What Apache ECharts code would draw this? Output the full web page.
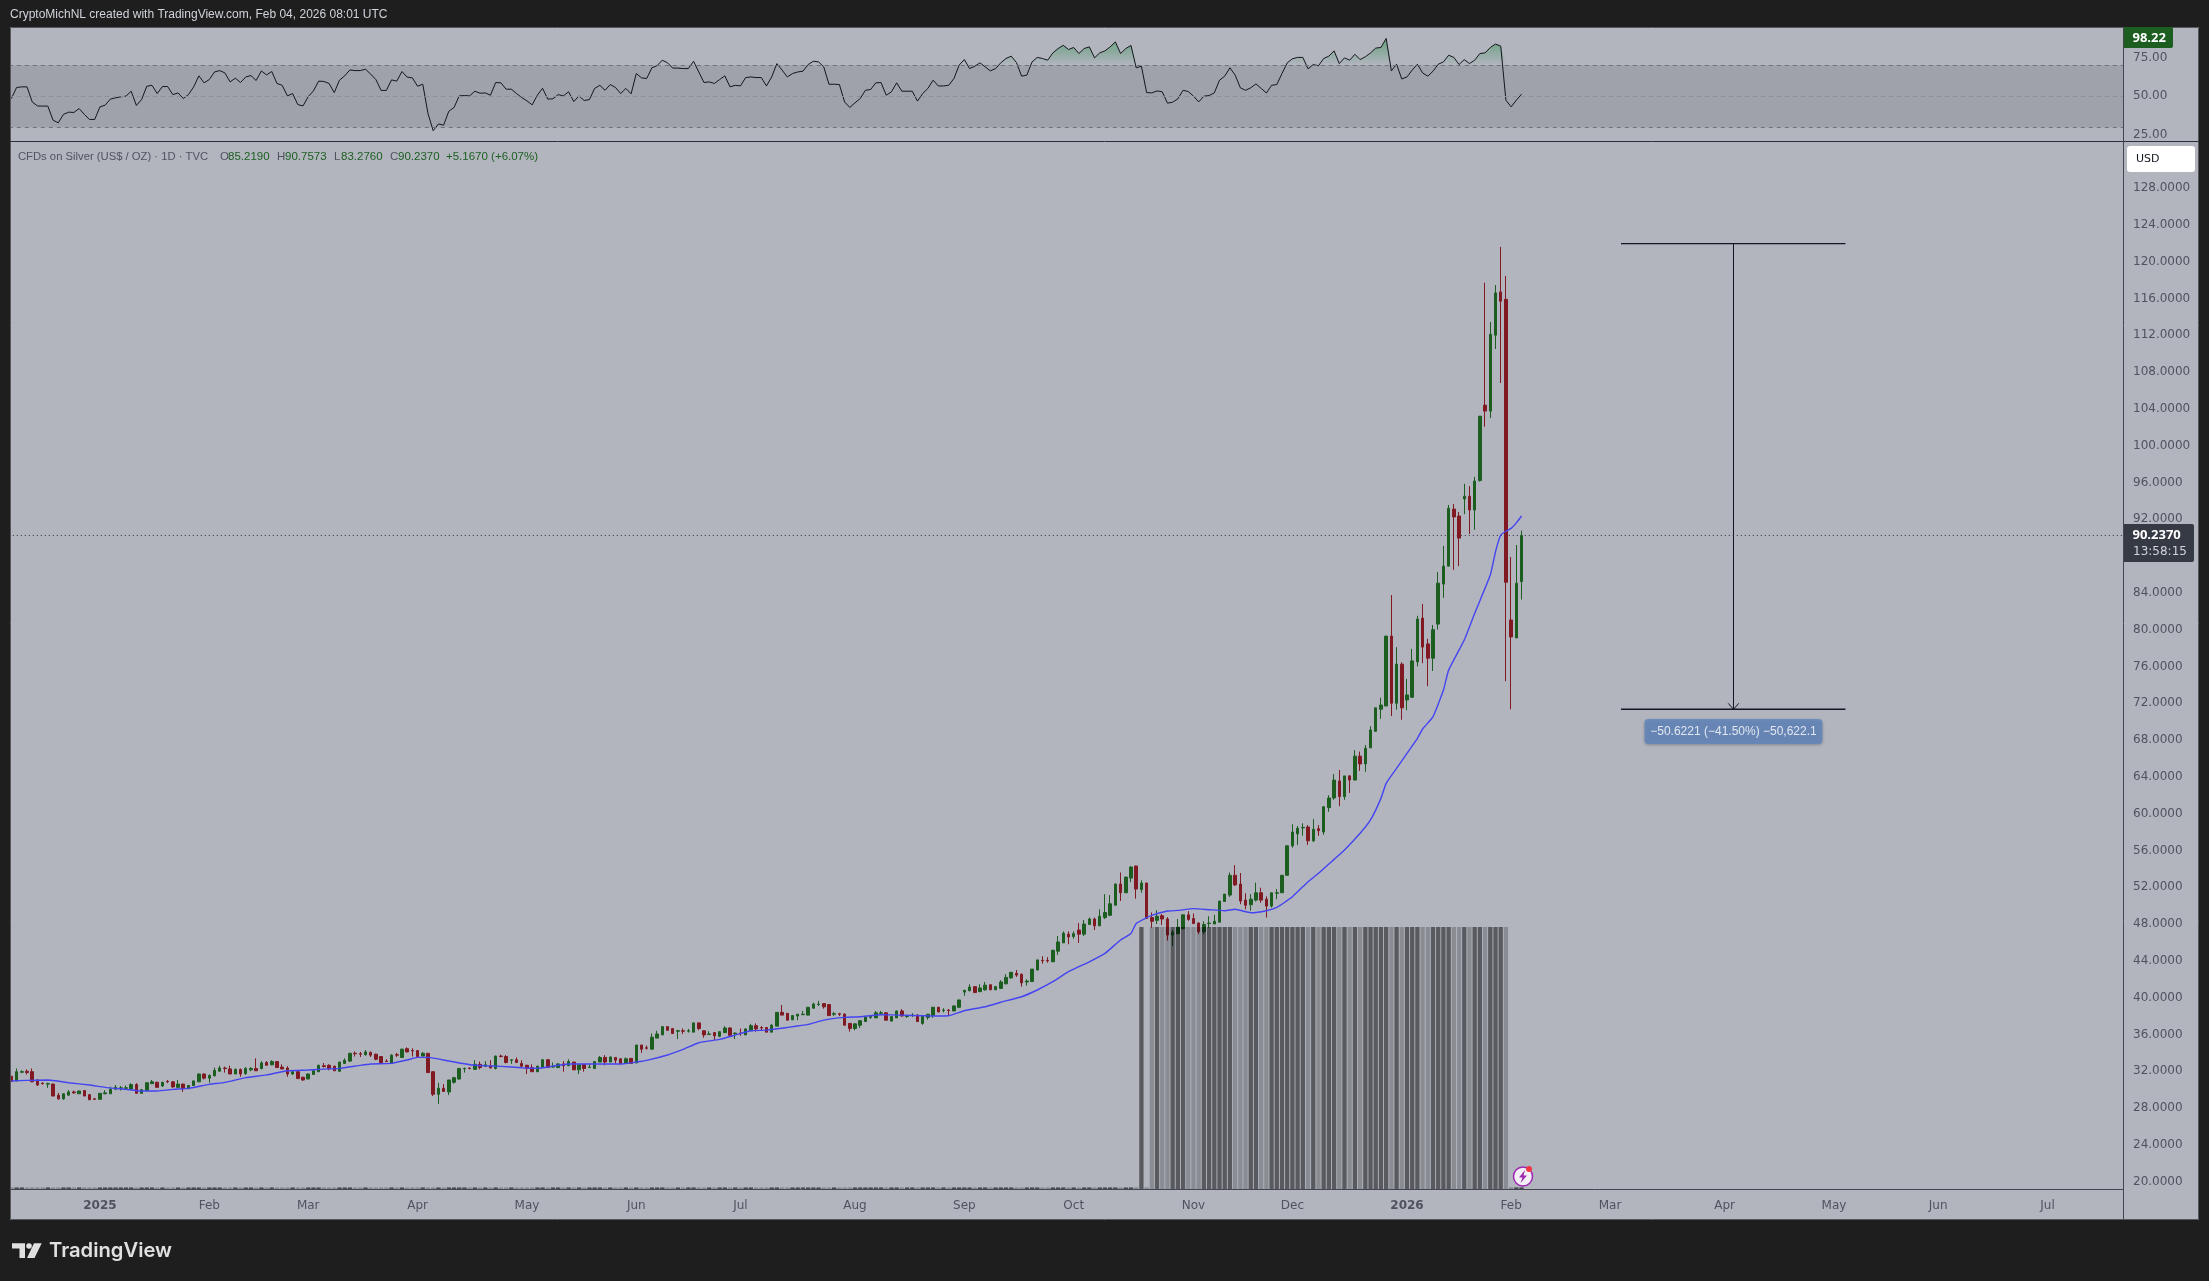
<!DOCTYPE html>
<html><head><meta charset="utf-8">
<style>html,body{margin:0;padding:0;background:#1e1e1e;width:2209px;height:1281px;overflow:hidden}#c{width:2209px;height:1281px}</style>
<script src="https://cdn.jsdelivr.net/npm/echarts@6/dist/echarts.min.js"></script>
</head><body><div id="c"></div><script>
const barCount = 406;
const tickBars = [17,38,57,78,99,120,140,162,183,204,227,246,268,288,307,329,350,370,391];
const tickLabels = ['2025','Feb','Mar','Apr','May','Jun','Jul','Aug','Sep','Oct','Nov','Dec','2026','Feb','Mar','Apr','May','Jun','Jul'];
const priceTicks = [20,24,28,32,36,40,44,48,52,56,60,64,68,72,76,80,84,88,92,96,100,104,108,112,116,120,124,128];
const rsiTicks = [25,50,75];
// open, high, low, close for each daily bar
const ohlc = [
[31.45,31.5,30.9,30.9],[30.95,32.3,30.9,31.95],[31.9,32.1,31.8,31.95],[32.0,32.2,31.65,31.85],[31.95,32.3,30.85,30.85],
[31.05,31.1,30.4,30.5],[30.7,30.8,30.55,30.65],[30.6,30.75,30.2,30.65],[30.6,30.65,29.3,29.3],[29.4,29.65,28.9,29.0],
[29.0,29.6,28.9,29.55],[29.4,29.95,29.4,29.75],[29.75,29.9,29.55,29.65],[29.55,29.9,29.55,29.85],[29.9,29.95,29.3,29.3],
[29.45,29.5,28.9,28.9],[29.0,29.1,28.9,28.95],[28.95,29.6,28.9,29.6],[29.55,29.95,29.5,29.65],[29.55,30.3,29.55,30.05],
[30.05,30.5,29.95,30.25],[30.15,30.4,29.9,30.2],[30.15,30.45,30.05,30.2],[30.05,30.7,30.05,30.55],[30.55,30.7,29.6,29.6],
[29.6,30.05,29.6,30.0],[29.9,30.8,29.9,30.75],[30.65,31.05,30.65,30.85],[30.8,30.85,30.25,30.25],[30.4,30.85,30.3,30.8],
[30.9,31.05,30.7,30.85],[30.85,30.9,30.2,30.3],[30.25,31.05,30.2,30.6],[30.6,30.65,29.75,30.1],[30.1,30.5,30.05,30.45],
[30.45,31.0,30.4,30.95],[30.85,31.75,30.85,31.7],[31.7,31.75,31.1,31.25],[31.25,31.65,30.75,31.55],[31.5,32.4,31.45,32.1],
[32.0,32.6,32.0,32.35],[32.35,32.5,31.85,32.3],[32.25,32.6,31.7,31.7],[31.7,32.3,31.7,32.2],[32.2,32.3,31.4,31.7],
[31.75,32.45,31.6,32.3],[32.15,32.45,32.0,32.3],[32.3,33.4,32.05,32.05],[32.3,33.1,32.2,32.9],[32.95,33.1,32.6,32.65],
[32.7,33.2,32.65,33.05],[33.05,33.1,32.4,32.4],[32.45,32.75,32.2,32.25],[32.35,32.55,31.4,31.7],[31.7,31.95,31.6,31.95],
[31.95,32.0,31.2,31.2],[31.35,31.4,30.95,31.05],[31.15,31.75,31.15,31.7],[31.65,32.1,31.65,32.05],[31.95,32.7,31.9,32.65],
[32.6,32.9,32.4,32.5],[32.65,32.75,32.1,32.3],[32.55,32.6,32.05,32.05],[32.0,33.0,31.95,33.0],[32.85,33.4,32.8,33.2],
[33.1,34.0,33.0,33.95],[33.95,34.15,33.6,33.9],[33.9,34.1,33.55,33.85],[33.8,34.3,33.7,34.1],[34.05,34.15,33.55,33.75],
[33.85,33.9,33.2,33.3],[33.6,33.65,32.8,32.95],[33.1,33.3,33.0,33.05],[32.85,33.85,32.85,33.75],[33.8,34.0,33.55,33.75],
[33.5,34.45,33.5,34.4],[34.45,34.6,34.05,34.1],[34.25,34.5,33.6,34.2],[34.25,34.3,33.55,33.6],[33.65,34.1,33.65,33.95],
[33.95,33.95,31.85,31.85],[31.95,31.95,29.3,29.5],[29.5,30.75,28.45,30.15],[30.15,30.6,29.75,29.8],[29.75,31.05,29.4,31.05],
[30.8,31.4,30.65,31.3],[31.15,32.3,31.1,32.3],[32.25,32.4,31.85,32.3],[32.35,32.4,32.2,32.3],[32.2,33.2,32.2,32.75],
[32.75,33.05,32.2,32.4],[32.55,33.1,32.45,32.7],[32.6,33.2,32.35,32.35],[32.3,33.7,32.2,33.65],[33.65,33.8,33.5,33.6],
[33.6,33.75,32.85,32.95],[33.2,33.25,32.8,33.25],[33.25,33.5,32.9,32.95],[32.85,33.2,32.4,32.55],[32.65,32.7,31.7,32.3],
[32.4,32.75,31.95,31.95],[31.95,32.6,31.9,32.55],[32.4,33.3,32.4,33.25],[33.25,33.3,32.4,32.4],[32.45,32.95,32.4,32.55],
[32.4,32.85,32.4,32.8],[32.8,33.1,31.95,32.6],[32.6,33.3,32.55,33.05],[33.0,33.0,32.15,32.15],[32.15,32.7,31.7,32.7],
[32.75,32.8,31.95,32.3],[32.4,32.8,32.4,32.45],[32.3,33.1,32.25,33.05],[33.0,33.65,33.0,33.5],[33.5,33.75,32.65,33.0],
[33.0,33.6,33.0,33.55],[33.5,33.5,32.85,33.2],[33.35,33.4,32.85,32.85],[32.85,33.5,32.85,33.35],[33.4,33.4,32.85,32.85],
[32.9,34.85,32.9,34.85],[34.85,34.85,34.0,34.4],[34.55,34.8,34.35,34.5],[34.4,36.1,34.4,35.7],[35.6,36.4,35.6,36.05],
[35.95,36.85,35.95,36.85],[36.85,36.85,36.4,36.45],[36.65,36.7,36.1,36.1],[36.35,36.5,35.5,36.4],[36.4,36.65,36.05,36.35],
[36.35,36.6,36.2,36.4],[36.25,37.3,36.25,37.25],[37.25,37.3,36.45,36.65],[36.4,36.4,35.65,35.95],[36.0,36.35,35.95,36.05],
[36.2,36.25,35.4,35.85],[35.8,36.3,35.7,36.3],[36.2,36.9,36.15,36.7],[36.7,36.8,35.8,35.9],[36.1,36.2,35.5,36.15],
[36.15,36.65,35.85,36.1],[35.95,36.65,35.95,36.6],[36.4,37.15,36.35,36.95],[36.95,37.2,36.3,36.6],[36.75,36.9,36.4,36.7],
[36.75,36.8,36.25,36.25],[36.25,37.15,36.25,37.0],[36.9,38.4,36.9,38.4],[38.4,39.2,38.1,38.1],[38.3,38.3,37.55,37.55],
[37.6,38.05,37.55,38.05],[38.0,38.2,37.55,38.2],[38.15,38.55,38.1,38.2],[38.1,38.95,38.1,38.95],[38.85,39.45,38.85,39.3],
[39.25,39.65,39.1,39.3],[39.35,39.35,38.8,39.0],[39.25,39.3,38.05,38.05],[38.2,38.45,38.0,38.25],[38.25,38.35,38.0,38.2],
[38.2,38.3,37.0,37.0],[37.2,37.25,36.3,36.65],[36.65,37.2,36.45,37.15],[37.0,37.5,36.7,37.5],[37.4,37.95,37.4,37.9],
[37.85,38.1,37.7,37.95],[37.8,38.55,37.8,38.35],[38.3,38.55,38.1,38.35],[38.35,38.4,37.55,37.55],[37.45,37.95,37.45,37.95],
[37.8,38.6,37.8,38.55],[38.55,38.75,37.95,38.0],[37.95,38.15,37.8,38.0],[38.05,38.3,37.9,38.1],[38.1,38.2,37.35,37.4],
[37.2,38.0,37.05,38.0],[37.85,38.2,37.6,38.2],[38.05,39.0,37.8,38.95],[38.95,39.0,38.4,38.45],[38.6,38.85,38.4,38.65],
[38.65,38.75,38.05,38.6],[38.55,39.15,38.55,39.1],[38.95,39.75,38.85,39.75],[40.6,40.85,40.2,40.8],[40.75,41.45,40.7,41.15],
[41.2,41.2,40.55,40.55],[40.65,41.45,40.65,41.05],[40.85,41.7,40.75,41.35],[41.4,41.4,40.85,40.85],[40.85,41.2,40.85,41.2],
[41.0,41.9,40.95,41.7],[41.5,42.55,41.45,42.2],[42.15,42.8,42.05,42.75],[42.65,43.0,42.25,42.45],[42.55,42.6,41.2,41.6],
[41.7,42.0,41.3,41.8],[41.75,43.1,41.7,43.1],[43.0,44.1,43.0,44.1],[44.05,44.5,43.7,44.0],[44.05,44.4,43.8,44.0],
[43.9,45.2,43.9,45.15],[45.05,46.7,44.65,46.05],[45.95,47.2,45.95,47.0],[46.9,47.2,45.8,46.6],[46.65,47.2,46.4,46.95],
[47.35,48.1,45.95,46.9],[46.9,48.45,46.7,48.0],[47.95,48.7,47.9,48.55],[48.55,48.7,47.35,47.8],[47.8,49.6,47.8,48.85],
[48.7,51.25,48.55,49.25],[48.95,51.15,48.85,50.2],[50.05,52.4,50.05,52.35],[52.35,53.6,50.5,51.4],[51.4,53.15,51.4,53.1],
[53.0,54.3,52.55,54.2],[54.3,54.35,50.75,51.8],[51.75,52.75,51.4,52.45],[52.45,52.5,48.6,48.6],[48.7,49.25,47.6,48.3],
[48.4,49.5,48.0,48.85],[48.9,49.1,47.9,48.55],[48.55,48.75,46.2,46.8],[46.8,47.35,45.6,47.1],[46.95,48.55,46.9,47.65],
[47.5,49.0,47.4,49.0],[49.0,49.4,48.35,48.5],[48.6,49.15,48.0,48.05],[48.1,48.2,46.9,47.15],[47.15,48.3,46.9,47.95],
[48.05,48.85,47.6,48.1],[48.0,49.0,48.0,48.3],[48.2,50.5,48.2,50.5],[50.45,51.25,50.45,51.25],[51.15,53.6,50.95,53.3],
[53.3,54.4,52.15,52.25],[52.35,53.55,50.15,50.5],[50.6,51.35,49.6,50.05],[50.1,51.25,49.45,50.7],[50.6,52.5,50.45,51.4],
[51.4,51.95,50.3,50.6],[50.7,51.0,48.7,49.95],[49.95,51.4,49.8,51.4],[51.35,51.8,50.7,51.4],[51.4,53.3,51.4,53.3],
[53.3,56.55,53.3,56.5],[56.5,58.85,56.3,58.0],[57.8,58.65,56.6,58.4],[58.45,58.95,57.6,58.5],[58.55,58.75,56.6,57.05],
[57.05,59.4,56.9,58.3],[58.35,58.75,57.6,58.15],[58.0,60.75,57.7,60.75],[60.65,62.0,60.2,61.7],[61.7,64.3,61.5,63.65],
[63.55,64.75,60.8,61.85],[61.85,64.1,61.5,64.1],[64.1,64.2,62.25,63.65],[63.65,66.9,63.65,66.25],[66.25,66.75,64.65,65.4],
[65.4,67.45,64.55,67.1],[67.15,69.5,67.15,69.1],[68.95,71.5,68.9,71.5],[71.35,72.6,70.3,71.8],[71.7,79.3,71.7,79.3],
[79.3,83.75,70.6,72.0],[72.0,78.1,71.3,76.25],[76.25,76.45,70.2,71.5],[72.35,74.65,71.25,72.9],[72.65,77.9,72.65,76.6],
[76.5,81.5,76.0,81.15],[81.25,82.8,76.35,78.1],[78.45,79.0,73.85,76.9],[76.9,80.5,75.5,80.0],[80.6,86.25,80.0,85.05],
[84.95,89.1,83.45,86.9],[86.9,93.55,86.9,93.2],[93.1,93.65,86.5,92.25],[92.35,92.8,86.9,89.95],[94.2,95.85,92.55,94.5],
[94.5,95.6,90.4,93.0],[93.0,96.6,90.85,96.15],[96.2,103.2,96.1,103.2],[104.4,117.7,102.05,103.75],[103.75,113.45,103.0,112.1],
[112.0,117.45,110.5,116.6],[116.7,121.6,106.8,115.7],[115.9,118.45,74.4,85.15],[81.05,87.9,71.35,79.2],[79.1,89.2,79.1,85.05],
[85.219,90.7573,83.276,90.237]];
// 50-day moving average, read at these bars
const emaBars = [0,3,7,11,15,18,22,25,28,31,34,38,41,45,49,53,57,59,63,67,69,73,76,78,80,84,88,91,94,98,101,104,107,110,113,117,120,122,126,129,132,136,139,142,145,149,153,156,160,163,167,171,175,177,180,183,187,190,194,197,200,203,207,210,213,215,216,218,219,222,224,227,230,233,235,238,241,243,246,249,251,254,256,259,261,263,264,266,268,270,271,273,275,276,279,281,284,285,286,287,288,289,290];
const emaValues = [30.94,31.01,31.04,30.75,30.5,30.25,30.03,29.85,29.85,30.03,30.14,30.57,30.79,31.3,31.6,32.06,32.13,32.2,32.31,32.64,32.78,32.86,33.22,33.51,33.51,33.11,32.71,32.6,32.53,32.38,32.31,32.56,32.78,32.78,32.78,32.78,33.0,33.18,33.76,34.37,35.1,35.46,35.93,36.4,36.47,36.76,37.09,37.56,37.85,37.92,38.14,38.1,38.03,38.0,38.03,38.58,39.01,39.5,40.1,40.83,41.73,42.82,43.9,44.81,46.26,46.98,48.07,48.69,48.94,49.41,49.48,49.67,49.56,49.45,49.6,49.23,49.45,49.81,50.97,52.6,53.51,55.03,56.05,57.86,59.31,61.66,63.29,64.92,66.55,68.18,69.2,70.54,73.43,75.6,78.87,81.77,85.93,88.47,90.28,90.7,91.0,91.6,92.35];
const rsiValues = [48.6,55.7,56.1,56.1,46.4,43.8,43.7,43.7,34.6,32.9,38.4,39.8,39.6,42.1,38.4,35.1,35.1,43.2,44.3,48.2,49,49.7,50.1,53.3,44.1,47.9,56.5,57.1,51.8,56.3,56.3,51.1,52.2,48.6,51.1,56.1,63.2,58.7,60.8,65.7,66.6,65.1,59.3,61.7,58.9,62.5,63.4,60.2,66.4,63.8,66,58.3,57.1,50.3,51.8,44.7,43.8,49.8,53.5,59.8,59.6,58.3,52.4,60.4,63.2,67,66.6,66.6,67.5,64.3,60.8,53.8,53.8,60.6,59.8,66,62.4,61.9,56.5,57.8,38.9,27.8,32.2,31.4,40.4,42.8,50.3,50.5,50.3,53.3,52,52.2,50.7,58.9,58.7,54.6,54.6,51.8,49.2,47.1,44.5,50.7,55.2,48.2,48.4,51.1,50.3,52.9,46.6,50.3,47.3,47.9,55.1,57.1,53.9,57.6,55.7,51.8,55.1,51.6,64.7,61.9,61.5,68.4,69.8,73.3,71.6,68.2,68.2,67.9,67.9,72.6,65.7,
58.9,59.3,58.3,60.8,63.2,56.1,57.1,56.7,62.1,62.5,62.1,62.1,56.7,62.5,71.1,66.9,62.5,64.7,65.7,66.2,70.5,72.6,72.2,69,57.8,57.8,57.6,46.4,42.8,45.8,48.6,53.9,54.4,58.7,58.9,50.7,52.9,58.7,53.3,53.3,53.3,46.9,51.8,55.1,60.4,56.7,56.7,57.1,61.5,70.1,73.7,67.9,69.4,71.6,69,66.4,67.9,71.6,74.4,75.9,71.8,63,63.7,72.2,75.1,74.4,73.3,78,80.8,82.9,80.2,81.5,77.6,80.8,81.9,74.8,
78,79.3,81.9,85.1,77.6,80.8,82.8,68.4,69.4,52.4,52.2,53.5,52.9,45.6,46.2,48.4,53.9,53.1,50.1,46.4,50.1,50.5,52.2,60.4,63,68.4,63.7,55.5,53.9,55.5,58,55.1,52.2,57.1,57.6,64.7,71.6,74.2,75.1,75.1,67.7,70.5,69.7,74.4,75.9,79.3,71.1,74.8,73.3,77.1,73.7,75.5,78,81.1,81.5,87.3,66.4,70.7,61.2,62.5,66.9,70.7,65.1,63,66.2,70.7,72.2,76.5,75.1,70.5,73.7,71.1,73.3,77.6,78,81.5,83.7,82.4,47.5,43.2,47.5,51.4];
// pale and dark volume columns from the first tall bar onward
const tallVolumeStart = 217;
const tallVolumeShades = 'dxldllddd' + 'lllddddddlllddllddddddd' + 'ldldddldldlddddd' + 'ldlddd' + 'lldddd' + 'lldlddldddl';
const lastClose = 90.237;
const measureTop = 121.96, measureBottom = 71.34;
const measureLeftBar = 309.1, measureRightBar = 352.2, measureMidBar = 330.7;
const measureText = '\u221250.6221 (\u221241.50%) \u221250,622.1';

const SANS = '"Liberation Sans", sans-serif', AX = '"DejaVu Sans", sans-serif', TAG = '"Noto Sans", sans-serif';
const UP = '#1b5e20', DOWN = '#801922', TXT = '#50535e';
const categories = Array.from({length: barCount}, (_, i) => 'bar' + i);
const labelFor = v => { const k = tickBars.indexOf(+v.slice(3)); return k >= 0 ? tickLabels[k] : ''; };
const volumes = ohlc.map((r, i) => {
  const s = tallVolumeShades[i - tallVolumeStart];
  if (s === 'd' || s === 'l') return {value: 1, itemStyle: {color: s === 'd' ? 'rgba(0,0,2,0.5)' : 'rgba(0,0,2,0.225)'}};
  return {value: 0.006, itemStyle: {color: r[3] >= r[0] ? 'rgba(0,0,2,0.6)' : 'rgba(0,0,2,0.25)'}};
});

const t = (text, x, y, fill, font, extra) => ({type: 'text', z: 120, silent: true, style: Object.assign({text, x, y, fill, font, textVerticalAlign: 'middle'}, extra || {})});
const legendPieces = [['CFDs on Silver (US$ / OZ) \u00b7 1D \u00b7 TVC', 18, TXT, 11.25], ['O', 220, TXT, 11.5], ['85.2190', 228, UP, 11.5], ['H', 277, TXT, 11.5], ['90.7573', 285, UP, 11.5], ['L', 334, TXT, 11.5], ['83.2760', 341, UP, 11.5], ['C', 390, TXT, 11.5], ['90.2370', 398, UP, 11.5], ['+5.1670 (+6.07%)', 446, UP, 11.5]];
const rule = (x1, y1, x2, y2, color) => ({type: 'line', z: 102, silent: true, shape: {x1, y1, x2, y2}, style: {stroke: color, lineWidth: 1}});

const option = {
  animation: false,
  backgroundColor: '#1e1e1e',
  textStyle: {fontFamily: AX},
  grid: [
    {left: 8.8, right: 86, top: 141, height: 1048},
    {left: 8.8, right: 86, top: 27, height: 114}
  ],
  xAxis: [
    {type: 'category', gridIndex: 0, data: categories, boundaryGap: true,
     axisLine: {show: true, lineStyle: {color: '#434651', width: 1}}, axisTick: {show: false}, splitLine: {show: false},
     axisLabel: {margin: 11, color: TXT, fontSize: 12, fontFamily: AX, interval: (i) => tickBars.includes(i), hideOverlap: false,
       formatter: v => { const s = labelFor(v); return /^20/.test(s) ? '{b|' + s + '}' : s; }, rich: {b: {fontWeight: 'bold', fontSize: 12, color: TXT, fontFamily: AX}}}},
    {type: 'category', gridIndex: 1, data: categories, boundaryGap: true, show: false},
    {type: 'value', gridIndex: 0, min: -0.5, max: barCount - 0.5, show: false}
  ],
  yAxis: [
    {type: 'value', gridIndex: 0, position: 'right', min: 19.2, max: 133.11, scale: true, splitLine: {show: false},
     axisLine: {show: false}, axisTick: {show: false},
     axisLabel: {customValues: priceTicks, margin: 10, padding: [4, 0, 0, 0], color: TXT, fontSize: 12, fontFamily: AX, formatter: v => v.toFixed(4)}},
    {type: 'value', gridIndex: 1, position: 'right', min: 21.2, max: 94.7, scale: true, splitLine: {show: false},
     axisLine: {show: false}, axisTick: {show: false},
     axisLabel: {customValues: rsiTicks, margin: 10, padding: [4, 0, 0, 0], color: TXT, fontSize: 12, fontFamily: AX, formatter: v => v.toFixed(2)}},
    {type: 'value', gridIndex: 0, min: 0, max: 4, show: false}
  ],
  series: [
    {name: 'Silver', type: 'candlestick', xAxisIndex: 0, yAxisIndex: 0, z: 2, barWidth: 3, clip: true, silent: true,
     data: ohlc.map(r => [r[0], r[3], r[2], r[1]]),
     itemStyle: {color: UP, color0: DOWN, borderColor: UP, borderColor0: DOWN, borderWidth: 1}},
    {name: 'Volume', type: 'bar', xAxisIndex: 0, yAxisIndex: 2, z: 3, barWidth: 4.3, silent: true, data: volumes},
    {name: 'MA', type: 'line', xAxisIndex: 2, yAxisIndex: 0, z: 4, symbol: 'none', silent: true, smooth: 0.15,
     data: emaBars.map((b, i) => [b, emaValues[i]]), lineStyle: {color: '#4444f2', width: 1.4}},
    {name: 'Last', type: 'line', xAxisIndex: 2, yAxisIndex: 0, z: 1, symbol: 'none', silent: true,
     data: [[-0.5, lastClose], [barCount - 0.5, lastClose]], lineStyle: {color: '#2a2c33', width: 1, type: [1, 3]}},
    {name: 'MeasureTop', type: 'line', xAxisIndex: 2, yAxisIndex: 0, z: 5, symbol: 'none', silent: true,
     data: [[measureLeftBar, measureTop], [measureRightBar, measureTop]], lineStyle: {color: '#131722', width: 1.4}},
    {name: 'MeasureBottom', type: 'line', xAxisIndex: 2, yAxisIndex: 0, z: 5, symbol: 'none', silent: true,
     data: [[measureLeftBar, measureBottom], [measureRightBar, measureBottom]], lineStyle: {color: '#131722', width: 1.4}},
    {name: 'MeasureStem', type: 'line', xAxisIndex: 2, yAxisIndex: 0, z: 5, symbol: 'none', silent: true,
     data: [[measureMidBar, measureTop], [measureMidBar, measureBottom]], lineStyle: {color: '#131722', width: 1}},
    {name: 'MeasureHead', type: 'line', xAxisIndex: 2, yAxisIndex: 0, z: 5, symbol: 'none', silent: true,
     data: [[measureMidBar - 1.02, measureBottom + 0.65], [measureMidBar, measureBottom], [measureMidBar + 1.02, measureBottom + 0.65]], lineStyle: {color: '#131722', width: 1}},
    {name: 'MeasureLabel', type: 'scatter', xAxisIndex: 2, yAxisIndex: 0, z: 6, symbolSize: 1, silent: true, itemStyle: {color: 'transparent'},
     data: [[measureMidBar, 68.92]],
     label: {show: true, position: 'inside', formatter: measureText, color: '#fff', fontSize: 12, fontFamily: SANS, backgroundColor: '#5f84bd', borderRadius: 4, width: 178, height: 25, lineHeight: 25, align: 'center', verticalAlign: 'middle', shadowColor: 'rgba(0,0,0,0.3)', shadowBlur: 3, shadowOffsetY: 1}},
    {name: 'RSI', type: 'line', xAxisIndex: 1, yAxisIndex: 1, z: 3, symbol: 'none', silent: true, data: rsiValues,
     lineStyle: {color: '#14161c', width: 1},
     markArea: {silent: true, itemStyle: {color: '#9fa2ab'}, data: [[{yAxis: 30}, {yAxis: 70}]]},
     markLine: {silent: true, symbol: 'none', label: {show: false}, data: [
       {yAxis: 70, lineStyle: {color: '#6f7179', type: [4, 4], width: 1}},
       {yAxis: 50, lineStyle: {color: '#8e9099', type: [4, 4], width: 1}},
       {yAxis: 30, lineStyle: {color: '#6f7179', type: [4, 4], width: 1}}]}},
    {name: 'RSI overbought', type: 'line', xAxisIndex: 1, yAxisIndex: 1, z: 2, symbol: 'none', silent: true,
     data: rsiValues.map(v => Math.max(v, 70)), lineStyle: {width: 0},
     areaStyle: {origin: 70, opacity: 1, color: new echarts.graphic.LinearGradient(0, 30, 0, 65, [{offset: 0, color: 'rgba(0,130,40,0.55)'}, {offset: 1, color: 'rgba(0,130,40,0)'}], true)}}
  ],
  graphic: {elements: [
    {type: 'rect', z: -10, silent: true, shape: {x: 10, y: 27, width: 2189, height: 1193}, style: {fill: '#b2b5be'}},
    {type: 'rect', z: 100, silent: true, shape: {x: 0, y: 20, width: 10, height: 1210}, style: {fill: '#1e1e1e'}},
    {type: 'rect', z: 101, silent: true, shape: {x: 10.5, y: 27.5, width: 2188, height: 1192}, style: {fill: 'none', stroke: '#55575f', lineWidth: 1}},
    rule(10.5, 141.5, 2198.5, 141.5, '#2a2e39'),
    rule(2123.5, 27.5, 2123.5, 1219.5, '#434651'),
    t('CryptoMichNL created with TradingView.com, Feb 04, 2026 08:01 UTC', 10, 15, '#d1d4dc', '12px ' + SANS),
    ...legendPieces.map(p => t(p[0], p[1], 157, p[2], p[3] + 'px ' + SANS)),
    {type: 'rect', z: 110, silent: true, shape: {x: 2124, y: 27, width: 49, height: 21, r: [0, 2, 2, 0]}, style: {fill: UP}},
    t('98.22', 2132.5, 38, '#ffffff', 'bold 13px ' + TAG),
    {type: 'rect', z: 110, silent: true, shape: {x: 2127, y: 146, width: 68, height: 26, r: 3}, style: {fill: '#ffffff'}},
    t('USD', 2136, 159.5, '#131722', '11px ' + AX),
    {type: 'rect', z: 110, silent: true, shape: {x: 2124, y: 524, width: 70, height: 38, r: [0, 2, 2, 0]}, style: {fill: '#363a45'}},
    t('90.2370', 2132.5, 535, '#ffffff', 'bold 13px ' + TAG),
    t('13:58:15', 2133, 552, '#d1d4dc', '12px ' + AX),
    {type: 'circle', z: 110, silent: true, shape: {cx: 1523, cy: 1176.5, r: 9.5}, style: {fill: '#f4eef6', stroke: '#9c27b0', lineWidth: 1.5}},
    {type: 'polygon', z: 111, silent: true, shape: {points: [[1525, 1170], [1519, 1177.5], [1522.5, 1177.5], [1520.5, 1183], [1527, 1175.5], [1523.5, 1175.5]]}, style: {fill: '#9c27b0'}},
    {type: 'circle', z: 112, silent: true, shape: {cx: 1529, cy: 1169, r: 3}, style: {fill: '#f23645'}},
    {type: 'polygon', z: 110, silent: true, shape: {points: [[12, 1243.3], [25, 1243.3], [25, 1258], [19.5, 1258], [19.5, 1248.5], [12, 1248.5]]}, style: {fill: '#e0e0e0'}},
    {type: 'circle', z: 110, silent: true, shape: {cx: 29, cy: 1246, r: 2.8}, style: {fill: '#e0e0e0'}},
    {type: 'polygon', z: 110, silent: true, shape: {points: [[34, 1243.3], [41.7, 1243.3], [34.5, 1258], [27, 1258]]}, style: {fill: '#e0e0e0'}},
    t('TradingView', 49, 1251, '#e0e0e0', '600 20.2px Inter, sans-serif')
  ]}
};
echarts.init(document.getElementById('c'), null, {width: 2209, height: 1281}).setOption(option);
</script></body></html>
